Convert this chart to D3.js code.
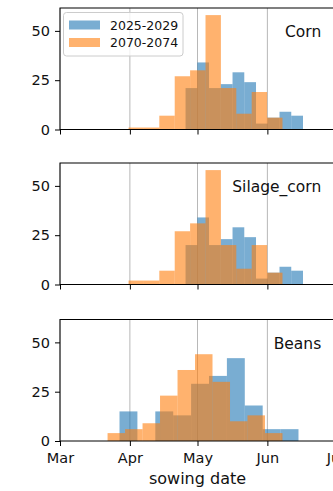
<!DOCTYPE html>
<html><head><meta charset="utf-8">
<script src="https://cdn.jsdelivr.net/npm/d3@7"></script>
<style>
html,body{margin:0;padding:0;background:#fff;overflow:hidden}
svg{display:block;font-family:"DejaVu Sans",sans-serif}
</style></head><body>
<div id="chart"></div>
<script>
// ---- data (sowing day-of-year bins, counts per bin) ----
const crops = ["Corn", "Silage_corn", "Beans"];
const periods = ["2025-2029", "2070-2074"];
const colors = ["#1f77b4", "#ff7f0e"];
const yTicks = [0, 25, 50];
const monthTicks = ["2025-03-01", "2025-04-01", "2025-05-01", "2025-06-01", "2025-07-01"];

// bin ranges [first edge, last edge] in day-of-year, 10 equal bins each
const cornRangeEarly = [115.7, 167.8];
const cornRangeLate = [90.4, 158.7];
const silageRangeEarly = [115.7, 167.8];
const silageRangeLate = [90.4, 158.7];
const beansRangeEarly = [86.4, 165.8];
const beansRangeLate = [81.1, 158.7];

const cornEarly = [21, 34, 21, 23, 29, 24, 3, 6, 9, 7];
const cornLate = [1, 1, 7, 27, 30, 58, 21, 8, 19, 6];
const silageEarly = [20, 34, 20, 23, 29, 24, 3, 6, 9, 7];
const silageLate = [2, 2, 7, 27, 31, 58, 20, 8, 20, 6];
const beansEarly = [15, 0, 15, 13, 29, 33, 42, 18, 6, 6];
const beansLate = [4, 6, 9, 23, 36, 44, 30, 10, 13, 4];

const ranges = [[cornRangeEarly, cornRangeLate], [silageRangeEarly, silageRangeLate], [beansRangeEarly, beansRangeLate]];
const counts = [[cornEarly, cornLate], [silageEarly, silageLate], [beansEarly, beansLate]];

// ---- layout ----
const W = 333, H = 491;
const left = 60, right = 335;
const panelTops = [8, 163, 319.5];
const panelH = 121.5;

const svg = d3.select("#chart").append("svg").attr("width", W).attr("height", H);

const doyToDate = d => new Date(Date.UTC(2025, 0, 1) + (d - 1) * 86400000);
const parse = d3.utcParse("%Y-%m-%d");
const x = d3.scaleUtc().domain([parse("2025-03-01"), parse("2025-07-01")]).range([left, right]);
const tickDates = monthTicks.map(parse);

crops.forEach((crop, i) => {
  const top = panelTops[i];
  const y = d3.scaleLinear().domain([0, 61.6]).range([top + panelH, top]);
  const g = svg.append("g");

  // vertical grid
  g.selectAll("line.grid").data(tickDates).join("line")
    .attr("x1", d => x(d)).attr("x2", d => x(d))
    .attr("y1", top).attr("y2", top + panelH)
    .attr("stroke", "#b0b0b0").attr("stroke-width", 0.9);

  // histograms
  [0, 1].forEach(s => {
    const [lo, hi] = ranges[i][s];
    const vals = counts[i][s];
    const n = vals.length, w = (hi - lo) / n;
    const bins = vals.map((v, k) => ({x0: lo + k * w, x1: lo + (k + 1) * w, v}));
    g.append("g").selectAll("rect").data(bins).join("rect")
      .attr("x", d => x(doyToDate(d.x0)))
      .attr("width", d => x(doyToDate(d.x1)) - x(doyToDate(d.x0)))
      .attr("y", d => y(d.v))
      .attr("height", d => y(0) - y(d.v))
      .attr("fill", colors[s]).attr("fill-opacity", 0.6);
  });

  // axes
  const ya = d3.axisLeft(y).tickValues(yTicks).tickSize(5).tickPadding(5);
  const yg = g.append("g").attr("transform", `translate(${left},0)`).call(ya);
  yg.select(".domain").remove();
  yg.selectAll("text").attr("font-size", 14.5).attr("font-family", "DejaVu Sans").attr("fill", "#111");

  const xa = d3.axisBottom(x).tickValues(tickDates).tickSize(5).tickPadding(7)
    .tickFormat(i === 2 ? d3.utcFormat("%b") : () => "");
  const xg = g.append("g").attr("transform", `translate(0,${top + panelH})`).call(xa);
  xg.select(".domain").remove();
  xg.selectAll("text").attr("font-size", 14.5).attr("font-family", "DejaVu Sans").attr("fill", "#111");

  // spines
  g.append("rect").attr("x", left).attr("y", top).attr("width", right - left).attr("height", panelH)
    .attr("fill", "none").attr("stroke", "#000").attr("stroke-width", 1);

  // crop label
  g.append("text").attr("x", left + 0.95 * (right - left)).attr("y", y(61.6 * 0.8))
    .attr("text-anchor", "end").attr("dominant-baseline", "central")
    .attr("font-size", 15.5).attr("fill", "#111").text(crop);
});

// legend
const lg = svg.append("g");
lg.append("rect").attr("x", 63.5).attr("y", 12.5).attr("width", 119.5).attr("height", 43.5)
  .attr("rx", 3).attr("fill", "#fff").attr("fill-opacity", 0.8).attr("stroke", "#cccccc");
periods.forEach((p, k) => {
  const cy = 25 + k * 17.5;
  lg.append("rect").attr("x", 69).attr("y", cy - 4.5).attr("width", 31).attr("height", 9)
    .attr("fill", colors[k]).attr("fill-opacity", 0.6);
  lg.append("text").attr("x", 110).attr("y", cy).attr("dominant-baseline", "central")
    .attr("font-size", 12.5).attr("fill", "#111").text(p);
});

// x label
svg.append("text").attr("x", (left + right) / 2).attr("y", 484).attr("text-anchor", "middle")
  .attr("font-size", 16).attr("fill", "#111").text("sowing date");
</script>
</body></html>
